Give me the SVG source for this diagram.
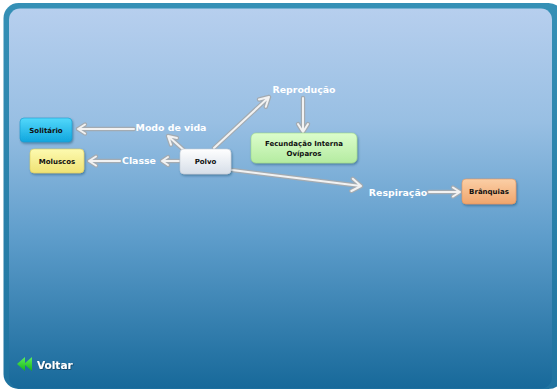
<svg xmlns="http://www.w3.org/2000/svg" xmlns:xlink="http://www.w3.org/1999/xlink" width="557" height="391" viewBox="0 0 557 391">
<style>
.lbl{font-family:"DejaVu Sans",Verdana,sans-serif;font-weight:bold;font-size:9.4px;fill:#ffffff;text-anchor:middle}
.nt{font-family:"DejaVu Sans",Verdana,sans-serif;font-weight:bold;font-size:7px;fill:#101010;text-anchor:middle}
.box{stroke-width:0.6;filter:url(#sh)}
.o{fill:none;stroke:#a3abb2;stroke-width:4.4;stroke-linecap:round;stroke-linejoin:round}
.i{fill:none;stroke:#f2f2f2;stroke-width:2;stroke-linecap:round;stroke-linejoin:round}
</style>
<defs>
<linearGradient id="bg" x1="0" y1="0" x2="0" y2="1">
<stop offset="0" stop-color="#b7cfee"/>
<stop offset="0.3" stop-color="#98bfe3"/>
<stop offset="0.6" stop-color="#5e9dcb"/>
<stop offset="1" stop-color="#17699a"/>
</linearGradient>
<linearGradient id="fr" x1="0" y1="0" x2="0" y2="1">
<stop offset="0" stop-color="#3590b6"/>
<stop offset="1" stop-color="#1f73a0"/>
</linearGradient>
<linearGradient id="gC" x1="0" y1="0" x2="0" y2="1"><stop offset="0" stop-color="#52d8fb"/><stop offset="1" stop-color="#10a6de"/></linearGradient>
<linearGradient id="gY" x1="0" y1="0" x2="0" y2="1"><stop offset="0" stop-color="#fdfab0"/><stop offset="1" stop-color="#efe274"/></linearGradient>
<linearGradient id="gW" x1="0" y1="0" x2="0" y2="1"><stop offset="0" stop-color="#ffffff"/><stop offset="1" stop-color="#d6dee8"/></linearGradient>
<linearGradient id="gG" x1="0" y1="0" x2="0" y2="1"><stop offset="0" stop-color="#dcfdcc"/><stop offset="1" stop-color="#b4eba0"/></linearGradient>
<linearGradient id="gO" x1="0" y1="0" x2="0" y2="1"><stop offset="0" stop-color="#fbcfa6"/><stop offset="1" stop-color="#f0a56c"/></linearGradient>
<linearGradient id="gV" x1="0" y1="0" x2="0" y2="1"><stop offset="0" stop-color="#5ef05e"/><stop offset="1" stop-color="#14b414"/></linearGradient>
<filter id="sh" x="-20%" y="-20%" width="140%" height="150%"><feDropShadow dx="1" dy="1.5" stdDeviation="1" flood-color="#0b3a5c" flood-opacity="0.45"/></filter>
<filter id="ts" x="-10%" y="-30%" width="120%" height="160%"><feDropShadow dx="0.8" dy="0.8" stdDeviation="0.5" flood-color="#0a2a40" flood-opacity="0.7"/></filter>
<path id="a1" d="M134,129 L78,129 M85,124.5 L78,129 L85,133.5"/>
<path id="a2" d="M120,161 L89,161 M96,156.5 L89,161 L96,165.5"/>
<path id="a3" d="M179,161 L162,161 M168,157 L162,161 L168,165"/>
<path id="a4" d="M186,152 L168,136 M177,138 L168,136 L171,144.7"/>
<path id="a5" d="M214,148 L269,97 M265.8,106.8 L269,97 L259,99.5"/>
<path id="a6" d="M303,98 L303,132 M298,124 L303,132 L308,124"/>
<path id="a7" d="M232,170 L361,186 M351.4,191 L361,186 L352.8,178.8"/>
<path id="a8" d="M429,192 L460,192 M453,187.5 L460,192 L453,196.5"/>
</defs>
<rect x="0" y="0" width="557" height="391" fill="#ffffff"/>
<rect x="3.5" y="3" width="560" height="386" rx="15" fill="url(#fr)"/>
<rect x="9" y="8.5" width="543" height="380" rx="11" fill="url(#bg)"/>
<g id="connectors">
<use xlink:href="#a1" class="o"/><use xlink:href="#a1" class="i"/>
<use xlink:href="#a2" class="o"/><use xlink:href="#a2" class="i"/>
<use xlink:href="#a3" class="o"/><use xlink:href="#a3" class="i"/>
<use xlink:href="#a4" class="o"/><use xlink:href="#a4" class="i"/>
<use xlink:href="#a5" class="o"/><use xlink:href="#a5" class="i"/>
<use xlink:href="#a6" class="o"/><use xlink:href="#a6" class="i"/>
<use xlink:href="#a7" class="o"/><use xlink:href="#a7" class="i"/>
<use xlink:href="#a8" class="o"/><use xlink:href="#a8" class="i"/>
</g>
<g id="solitario"><rect class="box" x="20" y="118" width="52" height="24" rx="4" fill="url(#gC)" stroke="#1a98cc"/><text class="nt" x="46" y="132.5">Solitário</text></g>
<g id="moluscos"><rect class="box" x="30" y="149" width="54" height="24" rx="4" fill="url(#gY)" stroke="#d8cc60"/><text class="nt" x="57" y="163.5">Moluscos</text></g>
<g id="polvo"><rect class="box" x="180" y="149" width="51" height="25" rx="4" fill="url(#gW)" stroke="#c4ccd6"/><text class="nt" x="205.5" y="164">Polvo</text></g>
<g id="fecundacao"><rect class="box" x="251" y="133" width="106" height="30" rx="5" fill="url(#gG)" stroke="#9cd888"/><text class="nt" x="304" y="146">Fecundação Interna</text><text class="nt" x="304" y="156">Ovíparos</text></g>
<g id="branquias"><rect class="box" x="462" y="179" width="54" height="25" rx="4" fill="url(#gO)" stroke="#e0965e"/><text class="nt" x="489" y="194">Brânquias</text></g>
<g id="modo"><text class="lbl" x="171" y="130.5">Modo de vida</text></g>
<g id="classe"><text class="lbl" x="139" y="163.5">Classe</text></g>
<g id="reproducao"><text class="lbl" x="304" y="92.5">Reprodução</text></g>
<g id="respiracao"><text class="lbl" x="398" y="195.5">Respiração</text></g>
<g id="voltar">
<polygon points="24,364 32,357 32,371" fill="url(#gV)"/>
<polygon points="17,364 25,357 25,371" fill="url(#gV)"/>
<text x="37" y="368.5" filter="url(#ts)" style="font-family:'DejaVu Sans',Verdana,sans-serif;font-weight:bold;font-size:10.5px;fill:#ffffff">Voltar</text>
</g>
</svg>
